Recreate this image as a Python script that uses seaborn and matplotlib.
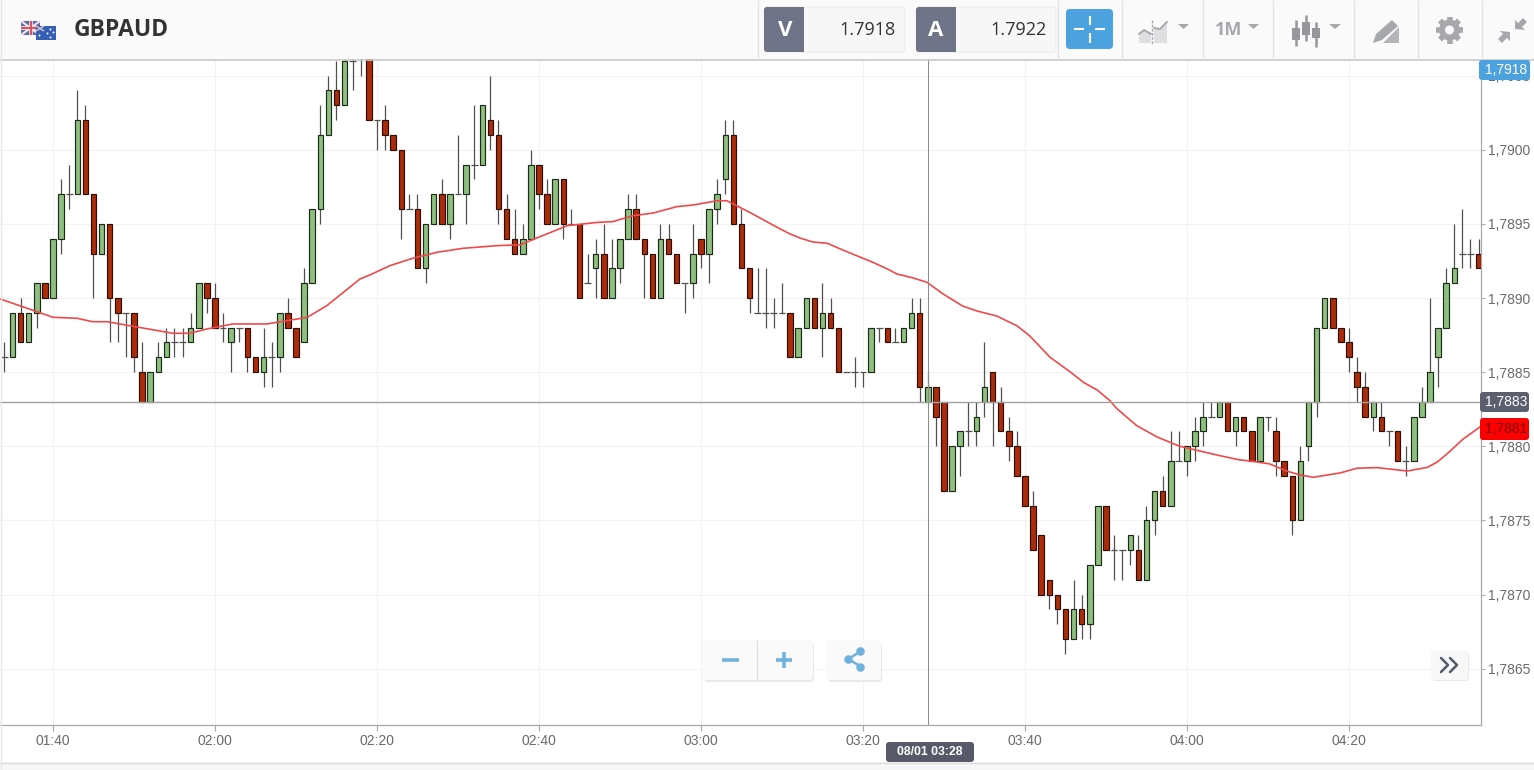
import numpy as np
import pandas as pd
import seaborn as sns
import matplotlib
matplotlib.use('Agg')
import matplotlib.pyplot as plt
from matplotlib.patches import Rectangle, FancyBboxPatch, Polygon, Circle

# candles are one per minute, first one is 01:34 (minutes after midnight)
first_minute = 94

# prices as the last four digits after "1.", so 7886 is 1.7886
opens = [7886, 7886, 7889, 7887, 7889, 7891,
         7890, 7894, 7897, 7897, 7902, 7897, 7893, 7895, 7890, 7889,
         7889, 7885, 7883, 7885, 7886, 7887, 7887, 7887, 7888, 7891,
         7890, 7888, 7887, 7888, 7888, 7886, 7885, 7886, 7886, 7889,
         7888, 7887, 7891, 7896, 7901, 7904, 7903, 7906, 7907, 7907,
         7902, 7902, 7901, 7900, 7896, 7896, 7892, 7895, 7897, 7895,
         7897, 7897, 7899, 7899, 7902, 7901, 7896, 7894, 7893, 7894,
         7899, 7897, 7895, 7898, 7895, 7895, 7891, 7892, 7893, 7890,
         7892, 7894, 7896, 7894, 7893, 7890, 7894, 7893, 7891, 7891,
         7894, 7893, 7896, 7898, 7901, 7895, 7892, 7889, 7889, 7889,
         7889, 7889, 7886, 7888, 7890, 7888, 7889, 7888, 7885, 7885,
         7885, 7885, 7888, 7888, 7887, 7887, 7888, 7889, 7883, 7884,
         7883, 7877, 7880, 7881, 7881, 7883, 7885, 7883, 7881, 7880,
         7878, 7876, 7874, 7871, 7870, 7869, 7867, 7869, 7868, 7872,
         7876, 7873, 7873, 7873, 7873, 7871, 7875, 7877, 7876, 7879,
         7879, 7880, 7881, 7882, 7882, 7883, 7881, 7882, 7881, 7879,
         7882, 7881, 7879, 7878, 7875, 7880, 7883, 7888, 7890, 7888,
         7887, 7885, 7884, 7882, 7882, 7881, 7881, 7879, 7879, 7882,
         7883, 7886, 7888, 7891, 7893, 7893, 7893]
highs = [7887, 7889, 7890, 7889, 7891, 7891,
         7894, 7898, 7899, 7904, 7903, 7897, 7895, 7895, 7890, 7889,
         7889, 7887, 7885, 7887, 7888, 7888, 7888, 7889, 7891, 7891,
         7891, 7889, 7888, 7888, 7888, 7886, 7888, 7887, 7889, 7890,
         7888, 7892, 7896, 7903, 7905, 7906, 7907, 7907, 7908, 7908,
         7902, 7903, 7901, 7900, 7897, 7897, 7895, 7897, 7898, 7897,
         7901, 7899, 7903, 7903, 7905, 7902, 7897, 7896, 7895, 7900,
         7899, 7898, 7898, 7898, 7896, 7895, 7893, 7894, 7895, 7894,
         7894, 7897, 7897, 7894, 7893, 7895, 7895, 7893, 7891, 7895,
         7894, 7896, 7898, 7902, 7902, 7896, 7892, 7892, 7892, 7890,
         7891, 7889, 7888, 7890, 7890, 7891, 7890, 7888, 7885, 7886,
         7885, 7888, 7888, 7888, 7888, 7888, 7890, 7890, 7885, 7884,
         7883, 7880, 7881, 7883, 7883, 7887, 7885, 7884, 7882, 7881,
         7878, 7877, 7874, 7871, 7870, 7869, 7871, 7870, 7872, 7876,
         7876, 7874, 7873, 7874, 7874, 7876, 7877, 7878, 7881, 7881,
         7880, 7882, 7883, 7883, 7883, 7883, 7882, 7882, 7881, 7882,
         7882, 7882, 7879, 7878, 7880, 7883, 7888, 7890, 7890, 7888,
         7888, 7886, 7885, 7883, 7883, 7881, 7881, 7880, 7882, 7884,
         7890, 7888, 7892, 7895, 7896, 7894, 7894]
lows = [7885, 7886, 7887, 7887, 7888, 7890,
        7890, 7893, 7896, 7897, 7897, 7890, 7893, 7887, 7887, 7886,
        7885, 7883, 7883, 7885, 7886, 7886, 7886, 7887, 7888, 7889,
        7888, 7887, 7885, 7887, 7885, 7885, 7884, 7884, 7885, 7888,
        7886, 7887, 7891, 7895, 7901, 7902, 7903, 7904, 7905, 7902,
        7900, 7900, 7900, 7894, 7896, 7892, 7891, 7895, 7895, 7894,
        7897, 7895, 7898, 7899, 7900, 7895, 7894, 7893, 7893, 7894,
        7896, 7895, 7895, 7894, 7895, 7890, 7891, 7890, 7890, 7890,
        7891, 7894, 7894, 7890, 7890, 7890, 7893, 7891, 7889, 7890,
        7892, 7891, 7895, 7897, 7895, 7892, 7889, 7889, 7888, 7888,
        7889, 7886, 7886, 7888, 7888, 7886, 7888, 7885, 7885, 7884,
        7884, 7885, 7887, 7887, 7887, 7887, 7888, 7883, 7883, 7880,
        7877, 7877, 7878, 7880, 7880, 7882, 7880, 7881, 7879, 7878,
        7876, 7873, 7870, 7869, 7868, 7866, 7867, 7867, 7867, 7872,
        7873, 7871, 7871, 7872, 7871, 7871, 7874, 7876, 7876, 7879,
        7878, 7879, 7880, 7882, 7882, 7881, 7880, 7881, 7879, 7879,
        7881, 7878, 7878, 7874, 7875, 7879, 7882, 7888, 7888, 7887,
        7885, 7883, 7882, 7881, 7881, 7880, 7879, 7878, 7879, 7882,
        7883, 7884, 7888, 7891, 7892, 7892, 7892]
closes = [7886, 7889, 7887, 7889, 7891, 7890,
          7894, 7897, 7897, 7902, 7897, 7893, 7895, 7890, 7889, 7889,
          7886, 7883, 7885, 7886, 7887, 7887, 7887, 7888, 7891, 7890,
          7888, 7888, 7888, 7888, 7886, 7885, 7886, 7886, 7889, 7888,
          7886, 7891, 7896, 7901, 7904, 7903, 7906, 7906, 7907, 7902,
          7902, 7901, 7900, 7896, 7896, 7892, 7895, 7897, 7895, 7897,
          7897, 7899, 7899, 7903, 7901, 7896, 7894, 7893, 7894, 7899,
          7897, 7895, 7898, 7895, 7895, 7890, 7891, 7893, 7890, 7892,
          7894, 7896, 7894, 7893, 7890, 7894, 7893, 7891, 7891, 7893,
          7893, 7896, 7897, 7901, 7895, 7892, 7890, 7889, 7889, 7889,
          7889, 7886, 7888, 7890, 7888, 7889, 7888, 7885, 7885, 7885,
          7885, 7888, 7888, 7887, 7887, 7888, 7889, 7884, 7884, 7882,
          7877, 7880, 7881, 7881, 7882, 7884, 7883, 7881, 7880, 7878,
          7876, 7873, 7870, 7870, 7869, 7867, 7869, 7868, 7872, 7876,
          7873, 7873, 7873, 7874, 7871, 7875, 7877, 7876, 7879, 7879,
          7880, 7881, 7882, 7882, 7883, 7881, 7882, 7881, 7879, 7882,
          7882, 7879, 7878, 7875, 7879, 7883, 7888, 7890, 7888, 7887,
          7886, 7884, 7882, 7883, 7881, 7881, 7879, 7879, 7882, 7883,
          7885, 7888, 7891, 7892, 7893, 7893, 7892]

# moving average
ma_minutes = [93.5, 95.9, 98, 100, 103, 104.9, 106.7, 109.9, 112.3, 114.8, 116.9, 119, 122.2,
              126.4, 128.9, 131.4, 133.8, 137.9, 139.1, 141.6, 144.4, 147.4, 150.6, 154.8,
              157.7, 160.1, 163.5, 167.2, 169.1, 171.6, 174.1, 177, 179, 182, 183.2, 186,
              189.8, 191, 192.2, 193.8, 195.6, 197.5, 201.2, 203, 204.2, 206.2, 207.9, 209.9,
              212.3, 214.1, 216.5, 219, 220.6, 223.1, 225.6, 227.2, 228.9, 230.5, 231.4,
              233.8, 236.3, 239.1, 241.6, 243.7, 246.5, 247.8, 250.2, 252.3, 254, 255.6,
              258.9, 261, 263.5, 267.2, 269.7, 270.9, 272.1, 274.1, 276.3]
ma_values = [7889.93, 7889.48, 7889.08, 7888.70, 7888.63, 7888.40, 7888.40, 7888.09, 7887.86,
             7887.62, 7887.62, 7887.91, 7888.25, 7888.25, 7888.47, 7888.70, 7889.48, 7891.28,
             7891.55, 7892.18, 7892.68, 7893.08, 7893.35, 7893.53, 7893.59, 7894.13, 7894.88,
             7895.10, 7895.15, 7895.55, 7895.73, 7896.16, 7896.27, 7896.56, 7896.56, 7895.78,
             7894.65, 7894.32, 7894.05, 7893.78, 7893.69, 7893.24, 7892.41, 7891.96, 7891.62,
             7891.35, 7891.06, 7890.27, 7889.46, 7889.12, 7888.79, 7888.13, 7887.44, 7886.00,
             7885.01, 7884.32, 7883.80, 7883.07, 7882.51, 7881.39, 7880.63, 7880.00, 7879.68,
             7879.41, 7879.08, 7879.01, 7878.81, 7878.33, 7878.06, 7877.91, 7878.20, 7878.52,
             7878.56, 7878.33, 7878.58, 7878.94, 7879.48, 7880.49, 7881.35]

time_ticks = [100, 120, 140, 160, 180, 200, 220, 240, 260]
time_labels = ['01:40', '02:00', '02:20', '02:40', '03:00', '03:20', '03:40', '04:00', '04:20']
price_ticks = [7865, 7870, 7875, 7880, 7885, 7890, 7895, 7900, 7905]
price_labels = ['1,7865', '1,7870', '1,7875', '1,7880', '1,7885', '1,7890', '1,7895', '1,7900', '1,7905']

GREEN = '#8fbf7f'
RED = '#ac2c0a'
GRID = '#f2f2f2'
AXIS = '#a8a8a8'
ICON = '#a6a8ab'
SLATE = '#6f7388'
BLUE = '#4ca1df'
LIGHT_BLUE = '#6fb2de'

sns.set_theme(style='white')
plt.rcParams['font.family'] = ['Liberation Sans', 'DejaVu Sans']

candles = pd.DataFrame({'open': opens, 'high': highs, 'low': lows, 'close': closes})
candles['minute'] = first_minute + candles.index
up = candles[candles['close'] > candles['open']]
down = candles[candles['close'] < candles['open']]
flat = candles[candles['close'] == candles['open']]
ma = pd.DataFrame({'minute': ma_minutes, 'price': ma_values})

fig = plt.figure(figsize=(15.34, 7.70), dpi=100, facecolor='white')
ax = fig.add_axes([0, 45 / 770, 1481 / 1534, 666 / 770])

# chart area
ax.set_xlim(93.46, 276.3)
ax.set_ylim(7861.2, 7906.12)
ax.set_xticks(time_ticks, time_labels)
ax.set_yticks(price_ticks, price_labels)
ax.yaxis.tick_right()
ax.grid(True, color=GRID, lw=0.8)
ax.set_axisbelow(True)
ax.tick_params(axis='x', length=4.3, width=0.8, color=AXIS, labelcolor='#6a6a6a', labelsize=10, pad=2, bottom=True)
ax.tick_params(axis='y', length=3, width=0.8, color=AXIS, labelcolor='#6a6a6a', labelsize=10, pad=2, right=True)
for side in ['top', 'left']:
    ax.spines[side].set_visible(False)
for side in ['bottom', 'right']:
    ax.spines[side].set_color(AXIS)
    ax.spines[side].set_linewidth(0.9)

# wicks, then bodies
ax.vlines(candles['minute'], candles['low'], candles['high'], color='#505050', lw=0.9, zorder=2)
ax.hlines(flat['close'], flat['minute'] - 0.42, flat['minute'] + 0.42, color='#505050', lw=0.9, zorder=2)
ax.bar(up['minute'], up['close'] - up['open'], bottom=up['open'], width=0.68,
       color=GREEN, edgecolor='#1c2a18', lw=0.85, zorder=3)
ax.bar(down['minute'], down['open'] - down['close'], bottom=down['close'], width=0.68,
       color=RED, edgecolor='#2a0d05', lw=0.85, zorder=3)

sns.lineplot(data=ma, x='minute', y='price', color='#ef4a4a', lw=1.2, estimator=None, sort=False, ax=ax, zorder=4)
ax.set_xlabel('')
ax.set_ylabel('')

# crosshair at 03:28 / 1,7883
ax.axvline(208, color='#8c8c8c', lw=0.75, zorder=5)
ax.axhline(7883, color='#a0a0a0', lw=1.0, zorder=5)

# everything around the chart, in pixel coordinates
ui = fig.add_axes([0, 0, 1, 1], facecolor='none')
ui.set_xlim(0, 1534)
ui.set_ylim(770, 0)
ui.axis('off')


def box(x0, y0, x1, y1, color, edge='none', radius=3, z=2):
    ui.add_patch(FancyBboxPatch((x0 + radius, y0 + radius), x1 - x0 - 2 * radius, y1 - y0 - 2 * radius,
                                boxstyle=f'round,pad={radius},rounding_size={radius}',
                                fc=color, ec=edge, lw=0.8, zorder=z))


def rect(x0, y0, x1, y1, color, z=3):
    ui.add_patch(Rectangle((x0, y0), x1 - x0, y1 - y0, fc=color, ec='none', zorder=z))


def seg(xs, ys, color, lw, z=4):
    ui.plot(xs, ys, color=color, lw=lw, zorder=z, solid_capstyle='butt')


def tri(x0, x1, y0, y1, color=ICON):
    ui.add_patch(Polygon([(x0, y0), (x1, y0), ((x0 + x1) / 2, y1)], fc=color, ec='none', zorder=4))


# header and footer strips
rect(0, 0, 1534, 59, '#fafafa', z=1)
seg([0, 1534], [59.5, 59.5], '#c8c8c8', 1.2, z=2)
rect(0, 762, 1534, 770, '#f6f6f6', z=1)
seg([0, 1534], [762.5, 762.5], '#dcdcdc', 1, z=2)
seg([0.5, 0.5], [0, 770], '#e8e8e8', 1.0, z=2)
for sx in [757.5, 1057.5, 1121.5, 1202.5, 1272.5, 1353.5, 1417.5, 1481.5]:
    seg([sx, sx], [0, 60], '#e2e2e2', 0.9, z=2)

# flags
rect(21, 21, 40, 35, '#5a6aa8', z=3)
seg([21, 40], [21, 35], '#f0e4e8', 1.6)
seg([21, 40], [35, 21], '#f0e4e8', 1.6)
seg([30.5, 30.5], [21, 35], '#f4eef0', 2.6)
seg([21, 40], [28, 28], '#f4eef0', 2.6)
seg([30.5, 30.5], [21, 35], '#d8505e', 1.4, z=5)
seg([21, 40], [28, 28], '#d8505e', 1.4, z=5)
rect(36, 26, 56, 39.5, '#3560b4', z=6)
seg([36, 44], [26, 31], '#e8c8d0', 1, z=7)
seg([44, 36], [26, 31], '#e8c8d0', 1, z=7)
ui.scatter([39, 50, 53, 47, 50], [35, 29, 32, 33, 37], s=2, color='white', zorder=7, linewidths=0)

ui.text(74, 30, 'GBPAUD', fontfamily='Open Sans', fontweight='bold', fontsize=16.5, color='#333333', va='center', ha='left', zorder=5)

# sell / buy quote boxes
box(764, 7, 905, 52, '#f7f7f7', edge='#ececec')
box(764, 7, 806, 52, SLATE, z=3)
rect(800, 7, 804, 52, SLATE, z=3)
rect(804, 7, 807, 52, '#f7f7f7', z=3)
ui.text(785, 30, 'V', fontfamily='Open Sans', fontweight='bold', fontsize=16, color='white', ha='center', va='center', zorder=5)
ui.text(896, 30, '1.7918', fontfamily='Open Sans', fontsize=13, color='#333333', ha='right', va='center', zorder=5)
box(916, 7, 1056, 52, '#f7f7f7', edge='#ececec')
box(916, 7, 958, 52, SLATE, z=3)
rect(952, 7, 956, 52, SLATE, z=3)
rect(956, 7, 959, 52, '#f7f7f7', z=3)
ui.text(936, 30, 'A', fontfamily='Open Sans', fontweight='bold', fontsize=16, color='white', ha='center', va='center', zorder=5)
ui.text(1047, 30, '1.7922', fontfamily='Open Sans', fontsize=13, color='#333333', ha='right', va='center', zorder=5)

# crosshair button
box(1066, 9, 1113, 49, BLUE, radius=4)
seg([1089.5, 1089.5], [16, 25], 'white', 1.5)
seg([1089.5, 1089.5], [33, 43], 'white', 1.5)
seg([1074, 1084], [29, 29], 'white', 1.5)
seg([1095, 1105], [29, 29], 'white', 1.5)

# chart type icon
ui.add_patch(Polygon([(1139, 43), (1139, 33), (1144, 30), (1151, 34), (1151, 43)], fc='#dedfe1', ec='none', zorder=3))
ui.add_patch(Polygon([(1154, 43), (1154, 28), (1160, 29), (1167, 23), (1167, 43)], fc='#dedfe1', ec='none', zorder=3))
ui.plot([1139, 1144, 1151], [34, 30, 34], color=ICON, lw=1.4, zorder=4)
ui.plot([1154, 1160, 1167], [28, 29, 22], color=ICON, lw=1.4, zorder=4)
ui.plot([1152, 1152], [20, 44], color=ICON, lw=1, ls=(0, (2, 1)), zorder=4)
tri(1178, 1189, 24, 29)

ui.text(1229, 30, '1M', fontfamily='Open Sans', fontweight='bold', fontsize=13, color=ICON, ha='center', va='center', zorder=5)
tri(1248, 1259, 24, 29)

# candle icon
for cx, top, bottom, b0, b1 in [(1296, 20, 46, 28, 40), (1306, 15, 41, 22, 35), (1316, 22, 47, 28, 38)]:
    seg([cx, cx], [top, bottom], '#95979b', 1.8)
    rect(cx - 3.8, b0, cx + 3.8, b1, '#95979b', z=4)
tri(1329, 1341, 24, 29)

# drawing tool icon
ui.add_patch(Polygon([(1392, 20), (1398, 26), (1382, 40), (1373, 43), (1376, 34)], fc=ICON, ec='none', zorder=4))
ui.add_patch(Polygon([(1399, 27), (1399, 43), (1383, 43)], fc='#b4b5b8', ec='none', zorder=3))

# gear icon
gear_angles = np.linspace(0, 2 * np.pi, 8, endpoint=False)
for a in gear_angles:
    seg([1449.5, 1449.5 + 13.5 * np.cos(a)], [30, 30 + 13.5 * np.sin(a)], ICON, 4)
ui.add_patch(Circle((1449.5, 30), 10.5, fc=ICON, ec='none', zorder=5))
ui.add_patch(Circle((1449.5, 30), 4.5, fc='#fafafa', ec='none', zorder=6))

# collapse icon
ui.add_patch(Polygon([(1515, 29), (1515, 20), (1518, 23), (1523, 18), (1527, 22), (1522, 27), (1525, 30)], fc=ICON, ec='none', zorder=4))
ui.add_patch(Polygon([(1510, 32), (1510, 41), (1507, 38), (1502, 43), (1498, 39), (1503, 34), (1500, 31)], fc=ICON, ec='none', zorder=4))

# price flags on the right axis
box(1479, 60, 1530, 80, BLUE)
ui.text(1506, 70, '1,7918', color='white', fontsize=10, ha='center', va='center', zorder=5)
box(1480, 392, 1529, 412, '#5c5f6e')
ui.text(1506, 402, '1,7883', color='white', fontsize=10, ha='center', va='center', zorder=5)
box(1480, 418, 1529, 440, '#fe0000')
ui.text(1506, 429, '1,7881', color='#7a0000', fontsize=10, ha='center', va='center', zorder=5)

# date flag under the crosshair
box(886, 742, 974, 762, '#565a68')
ui.text(930, 752, '08/01 03:28', color='white', fontsize=8.8, fontweight='bold', ha='center', va='center', zorder=5)

# zoom and share buttons
box(704, 642, 814, 682, '#e9e9e9', radius=4, z=2)
box(702, 640, 813, 680, '#fafafa', radius=4, z=3)
seg([757, 757], [640, 680], '#e0e0e0', 0.9)
seg([722, 739], [659.5, 659.5], LIGHT_BLUE, 2.6)
seg([776, 792], [659.5, 659.5], LIGHT_BLUE, 2.6)
seg([784, 784], [651.5, 667.5], LIGHT_BLUE, 2.6)
box(828, 642, 882, 682, '#e9e9e9', radius=4, z=2)
box(826, 640, 881, 680, '#fafafa', radius=4, z=3)
seg([848, 860], [659, 652], LIGHT_BLUE, 1.8)
seg([848, 860], [659, 666], LIGHT_BLUE, 1.8)
ui.scatter([848, 860, 860], [659, 651, 667], s=38, color=LIGHT_BLUE, zorder=5, linewidths=0)

# scroll to latest button
box(1432, 652, 1469, 681, '#e9e9e9', radius=3, z=2)
box(1431, 650, 1468, 680, '#f8f8f8', radius=3, z=3)
ui.plot([1441, 1448, 1441], [658, 665, 672], color='#555a68', lw=1.8, zorder=5)
ui.plot([1450, 1457, 1450], [658, 665, 672], color='#555a68', lw=1.8, zorder=5)

fig.savefig('out.png', dpi=100)
